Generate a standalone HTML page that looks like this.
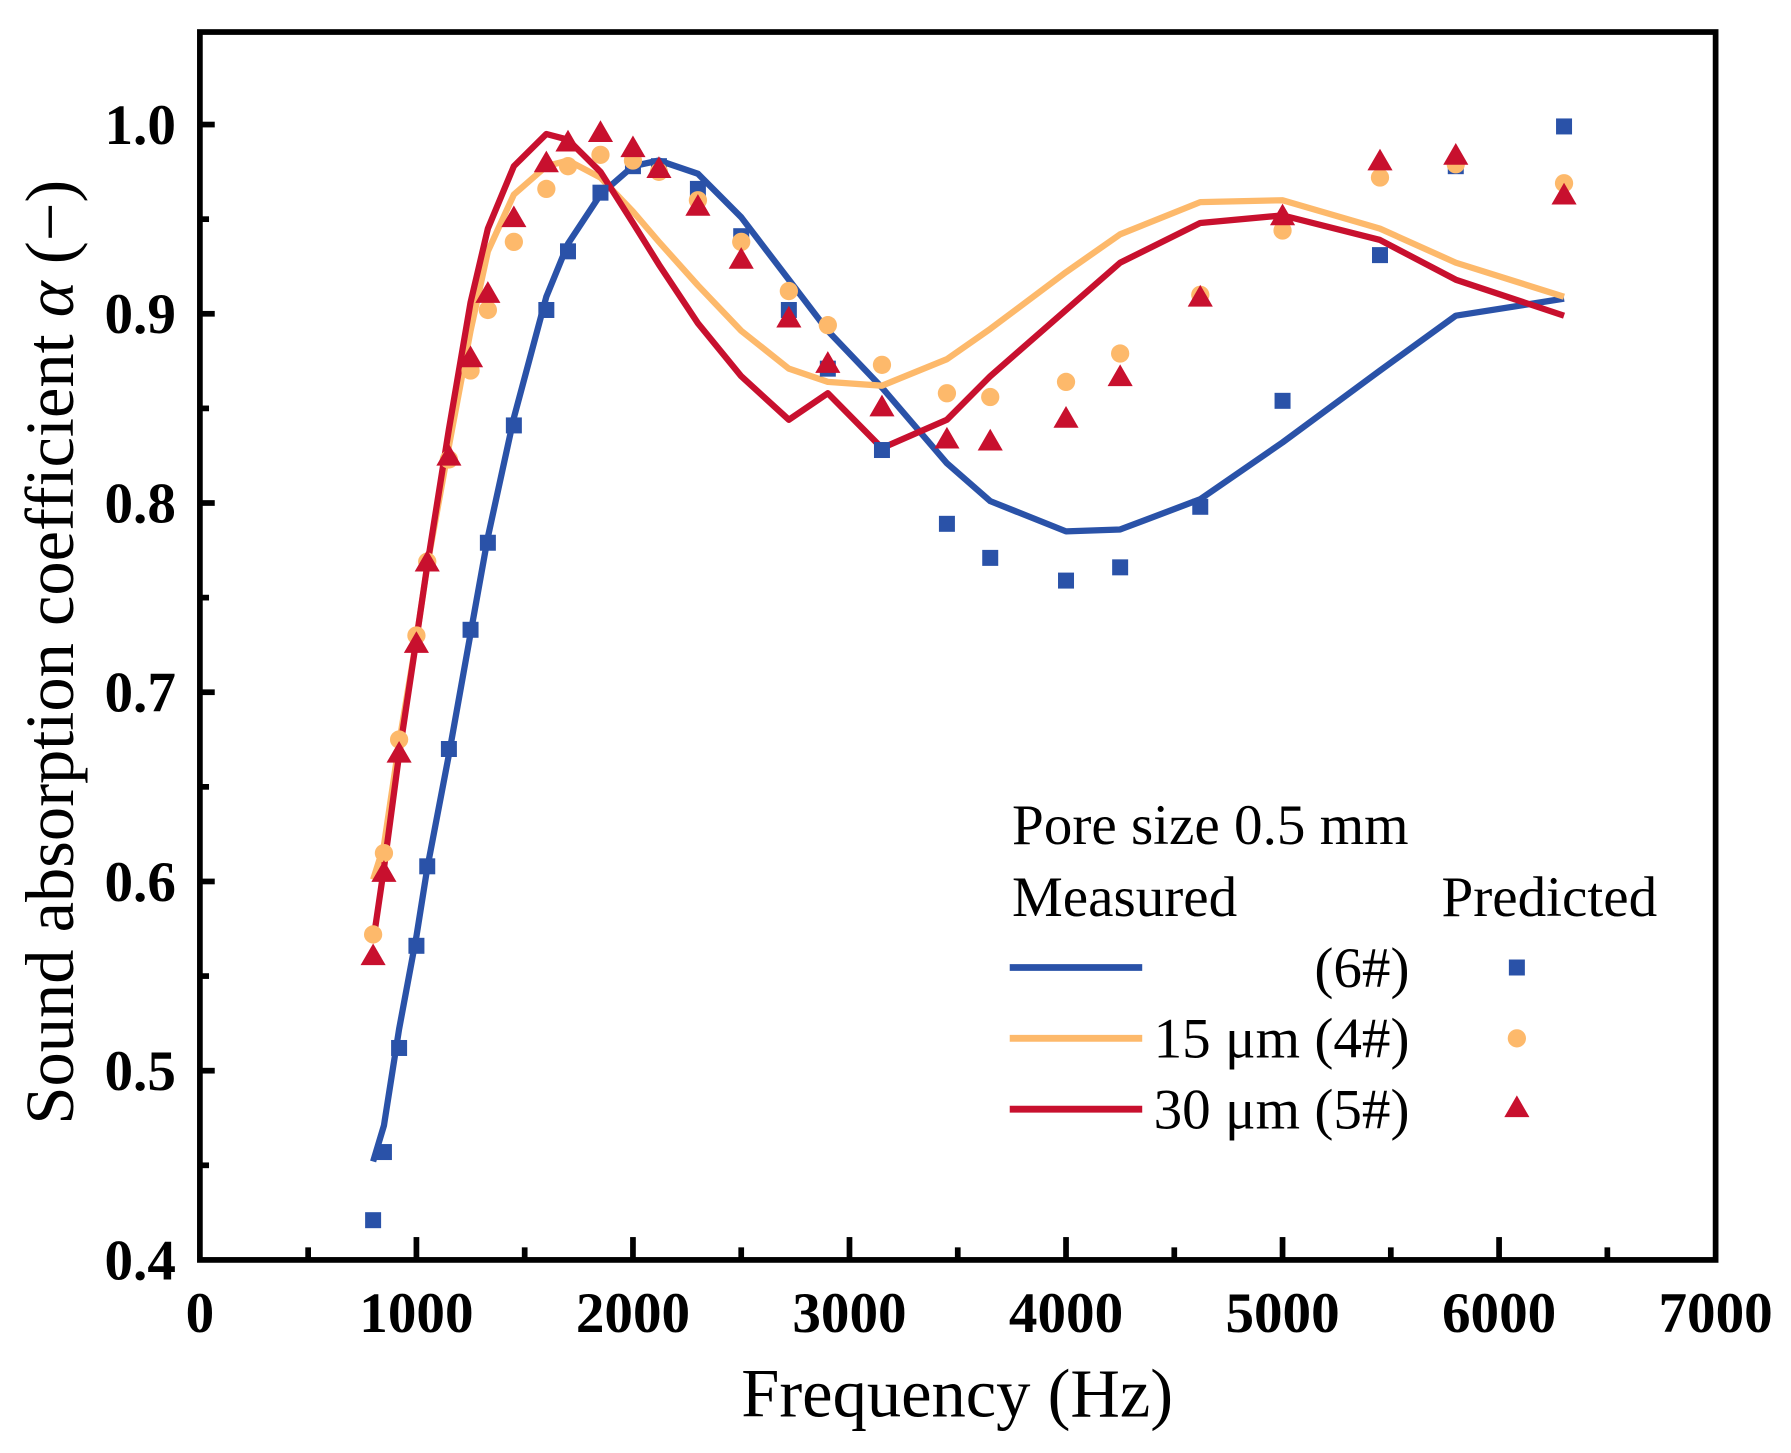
<!DOCTYPE html>
<html><head><meta charset="utf-8"><style>
html,body{margin:0;padding:0;background:#fff;}
svg{display:block;}
text{font-family:"Liberation Serif",serif;}
</style></head><body>
<svg id="chart" width="1791" height="1453" viewBox="0 0 1568 1272" xmlns="http://www.w3.org/2000/svg">
<g id="marks"></g>
<rect x="175" y="28" width="1327" height="1075" fill="none" stroke="#000" stroke-width="5"/>
<g id="axes"></g>
<text x="838" y="1240" font-size="60" text-anchor="middle">Frequency (Hz)</text>
<text transform="translate(64,571) rotate(-90)" font-size="60" text-anchor="middle">Sound absorption coefficient <tspan font-style="italic">α</tspan> (−)</text>
<g font-size="50">
<text x="886" y="739">Pore size 0.5 mm</text>
<text x="886" y="802">Measured</text>
<text x="1262" y="802">Predicted</text>
<line x1="884" y1="847" x2="1000" y2="847" stroke="#2a52a8" stroke-width="6"/>
<text x="1234" y="864" text-anchor="end">(6#)</text>
<rect x="1321" y="840" width="14" height="14" fill="#2a52a8"/>
<line x1="884" y1="909" x2="1000" y2="909" stroke="#fdb96b" stroke-width="6"/>
<text x="1234" y="926" text-anchor="end">15 μm (4#)</text>
<circle cx="1328" cy="909" r="8" fill="#fdb96b"/>
<line x1="884" y1="971" x2="1000" y2="971" stroke="#c8102e" stroke-width="6"/>
<text x="1234" y="988" text-anchor="end">30 μm (5#)</text>
<polygon points="1328,959 1339,978 1317,978" fill="#c8102e"/>
</g>
</svg>
<script>
const freqs=[800,850,920,1000,1050,1150,1250,1330,1450,1600,1700,1850,2000,2120,2300,2500,2720,2900,3150,3450,3650,4000,4250,4620,5000,5450,5800,6300];
const meas6=[0.452,0.471,0.522,0.571,0.607,0.667,0.731,0.782,0.845,0.909,0.937,0.963,0.978,0.981,0.974,0.951,0.918,0.891,0.861,0.821,0.801,0.785,0.786,0.802,0.832,0.870,0.899,0.908];
const meas4=[0.601,0.619,0.673,0.728,0.767,0.830,0.891,0.933,0.963,0.978,0.981,0.972,0.954,0.938,0.915,0.891,0.871,0.864,0.862,0.876,0.892,0.922,0.942,0.959,0.960,0.945,0.927,0.909];
const meas5=[0.568,0.607,0.667,0.728,0.767,0.839,0.906,0.945,0.978,0.995,0.992,0.975,0.948,0.926,0.895,0.867,0.844,0.858,0.829,0.844,0.867,0.902,0.927,0.948,0.952,0.939,0.918,0.899];
const pred6=[0.421,0.457,0.512,0.566,0.608,0.670,0.733,0.779,0.841,0.902,0.933,0.964,0.978,0.978,0.966,0.941,0.902,0.871,0.828,0.789,0.771,0.759,0.766,0.798,0.854,0.931,0.978,0.999];
const pred4=[0.572,0.615,0.675,0.730,0.769,0.823,0.870,0.902,0.938,0.966,0.978,0.984,0.981,0.975,0.960,0.938,0.912,0.894,0.873,0.858,0.856,0.864,0.879,0.910,0.944,0.972,0.979,0.969];
const pred5=[0.560,0.604,0.667,0.725,0.768,0.824,0.876,0.910,0.950,0.979,0.990,0.995,0.987,0.976,0.956,0.928,0.897,0.873,0.850,0.833,0.832,0.844,0.866,0.908,0.951,0.980,0.983,0.962];
const xTicks=[0,1000,2000,3000,4000,5000,6000,7000];
const yTicks=[0.4,0.5,0.6,0.7,0.8,0.9,1.0];

const NS='http://www.w3.org/2000/svg';
const X=v=>175+v/7000*1327;
const Y=v=>1103-(v-0.4)/0.6*994;
const marks=document.getElementById('marks');
const axes=document.getElementById('axes');
function mk(tag,attrs,parent){const e=document.createElementNS(NS,tag);for(const k in attrs)e.setAttribute(k,attrs[k]);parent.appendChild(e);return e;}

for(let f=500;f<7000;f+=500){
  const major=f%1000===0;
  const t=mk('line',{x1:X(f),x2:X(f),y1:1103,y2:1103-(major?20:11),stroke:'#000','stroke-width':5},axes);
  
  
}
xTicks.forEach(f=>{
  const t=mk('text',{x:X(f),y:1166,'font-size':50,'font-weight':'bold','text-anchor':'middle'},axes);
  t.textContent=String(f);
  
  
});
for(let i=1;i<13;i++){
  const v=0.4+i*0.05;const major=i%2===0;
  const t=mk('line',{x1:175,x2:175+(major?13:8),y1:Y(v),y2:Y(v),stroke:'#000','stroke-width':5},axes);
  
  
}
yTicks.forEach(v=>{
  const t=mk('text',{x:154,y:Y(v)+17,'font-size':50,'font-weight':'bold','text-anchor':'end'},axes);
  t.textContent=v.toFixed(1);
  
  
});

[[meas6,'#2a52a8','line-6'],[meas4,'#fdb96b','line-4'],[meas5,'#c8102e','line-5']].forEach(([d,c,n])=>{
  const p=mk('polyline',{points:d.map((v,i)=>X(freqs[i])+','+Y(v)).join(' '),fill:'none',stroke:c,'stroke-width':5.5,'stroke-linejoin':'round'},marks);
  
  
});
pred6.forEach((v,i)=>{
  const r=mk('rect',{x:X(freqs[i])-7,y:Y(v)-7,width:14,height:14,fill:'#2a52a8'},marks);
  
  
});
pred4.forEach((v,i)=>{
  const c=mk('circle',{cx:X(freqs[i]),cy:Y(v),r:8,fill:'#fdb96b'},marks);
  
  
});
pred5.forEach((v,i)=>{
  const x=X(freqs[i]),y=Y(v);
  const t=mk('polygon',{points:`${x},${y-12} ${x+11},${y+7} ${x-11},${y+7}`,fill:'#c8102e'},marks);
  
  
});
</script>
</body></html>
